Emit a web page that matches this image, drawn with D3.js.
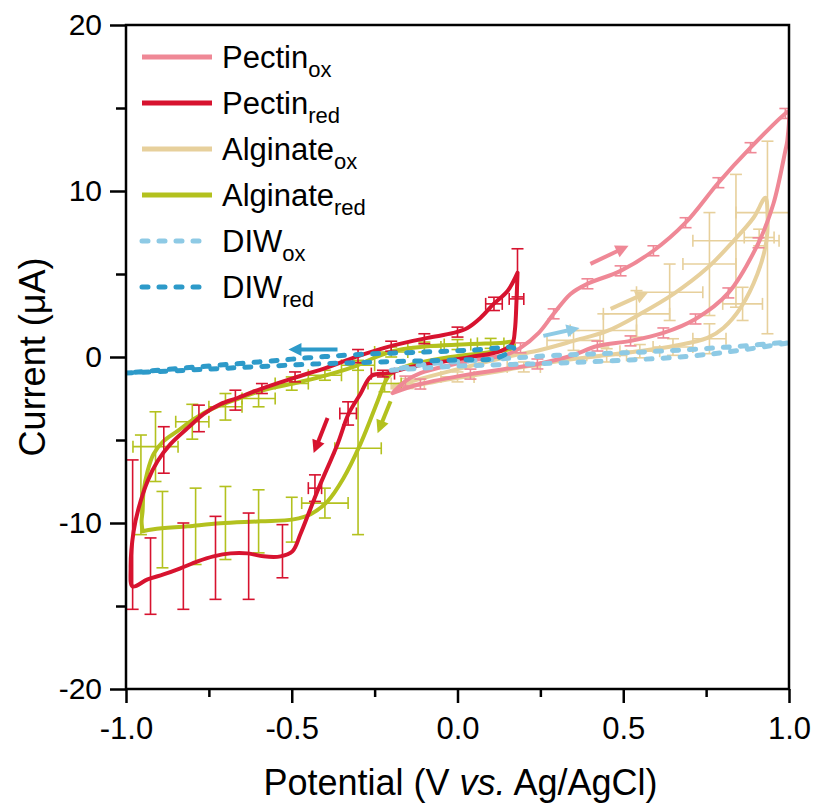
<!DOCTYPE html>
<html>
<head>
<meta charset="utf-8">
<script src="https://cdn.jsdelivr.net/npm/d3@7"></script>
<style>
  html, body { margin: 0; padding: 0; background: #ffffff; }
  svg { display: block; font-family: "Liberation Sans", Arial, sans-serif; }
</style>
</head>
<body>
<svg id="chart" width="814" height="807"></svg>
<script>
// ---- axis ticks ----
const xTickValues = [-1.0, -0.5, 0.0, 0.5, 1.0];
const xTickLabels = ["-1.0", "-0.5", "0.0", "0.5", "1.0"];
const xMinorTicks = [-0.75, -0.25, 0.25, 0.75];
const yTickValues = [-20, -10, 0, 10, 20];
const yTickLabels = ["-20", "-10", "0", "10", "20"];
const yMinorTicks = [-15, -5, 5, 15];

// ---- legend entries ----
const seriesNames = ["Pectin", "Pectin", "Alginate", "Alginate", "DIW", "DIW"];
const seriesSubs = ["ox", "red", "ox", "red", "ox", "red"];

// ---- CV loops: [potential (V), current (µA)] ----
const pectinOx = [
  [-0.196, -2.17], [-0.157, -1.45], [-0.112, -0.97], [-0.021, -0.48], [0.069, -0.12],
  [0.145, 0.12], [0.190, 0.55], [0.245, 1.45], [0.290, 2.60], [0.341, 3.80],
  [0.392, 4.41], [0.492, 5.19], [0.591, 6.40], [0.688, 8.09], [0.787, 10.50],
  [0.884, 12.61], [0.989, 14.67], [0.998, 14.79], [0.995, 13.04], [0.989, 12.43],
  [0.953, 9.23], [0.908, 6.88], [0.817, 3.86], [0.718, 2.29], [0.621, 1.45],
  [0.522, 0.97], [0.422, 0.66], [0.341, 0.06], [0.241, -0.42], [0.039, -1.03],
  [-0.112, -1.63], [-0.196, -2.17]
];
const pectinRed = [
  [0.181, 5.07], [0.178, 3.4], [0.173, 1.6], [0.165, 0.8], [0.13, 0.36],
  [0.04, 0.0], [-0.05, -0.3], [-0.14, -0.6], [-0.21, -0.97], [-0.26, -1.15],
  [-0.293, -2.23], [-0.329, -3.44], [-0.362, -5.25], [-0.419, -7.91], [-0.443, -9.11],
  [-0.474, -10.68], [-0.498, -11.71], [-0.534, -12.01], [-0.585, -12.01], [-0.633, -11.83],
  [-0.685, -11.83], [-0.736, -12.01], [-0.784, -12.31], [-0.836, -12.73], [-0.887, -13.10],
  [-0.935, -13.40], [-0.980, -13.82], [-0.986, -12.7], [-0.977, -10.5], [-0.962, -9.11],
  [-0.935, -7.48], [-0.905, -6.28], [-0.866, -5.25], [-0.814, -4.28], [-0.766, -3.44],
  [-0.715, -2.84], [-0.664, -2.47], [-0.594, -1.93], [-0.495, -1.27], [-0.392, -0.62],
  [-0.30, 0.05], [-0.193, 0.70], [-0.09, 1.15], [-0.012, 1.45], [0.030, 1.75],
  [0.069, 2.35], [0.109, 3.20], [0.151, 3.98], [0.181, 5.07]
];
const alginateOx = [
  [-0.193, -1.75], [-0.081, -1.15], [0.039, -0.54], [0.160, 0.06], [0.250, 0.42],
  [0.350, 0.97], [0.452, 1.57], [0.552, 2.60], [0.652, 3.80], [0.754, 5.37],
  [0.833, 7.00], [0.893, 8.39], [0.929, 9.60], [0.935, 8.69], [0.932, 7.00],
  [0.905, 5.01], [0.854, 2.96], [0.802, 1.75], [0.754, 1.15], [0.652, 0.66],
  [0.552, 0.36], [0.452, 0.12], [0.350, -0.12], [0.250, -0.42], [0.130, -0.84],
  [-0.021, -1.33], [-0.142, -1.75], [-0.193, -1.87]
];
const alginateRed = [
  [-0.950, -10.5], [-0.953, -9.9], [-0.950, -9.3], [-0.947, -8.09], [-0.935, -6.88],
  [-0.917, -5.85], [-0.887, -5.07], [-0.845, -4.47], [-0.796, -3.74], [-0.736, -3.08],
  [-0.664, -2.53], [-0.585, -1.99], [-0.504, -1.63], [-0.413, -1.2], [-0.314, -0.6],
  [-0.253, -0.06], [-0.193, 0.36], [-0.081, 0.66], [0.039, 0.78], [0.130, 0.84],
  [0.169, 0.90], [0.166, 0.54], [0.100, 0.30], [-0.021, 0.0], [-0.142, -0.48],
  [-0.202, -1.03], [-0.217, -1.45], [-0.241, -2.66], [-0.293, -5.25], [-0.344, -7.30],
  [-0.392, -8.69], [-0.443, -9.47], [-0.495, -9.78], [-0.594, -9.90], [-0.715, -10.02],
  [-0.814, -10.20], [-0.917, -10.38], [-0.950, -10.5]
];
const diwOx = [
  [-0.2, -0.8], [0.0, -0.55], [0.25, -0.4], [0.5, -0.2], [0.7, 0.05], [0.85, 0.4],
  [1.0, 0.88], [0.85, 0.65], [0.7, 0.45], [0.5, 0.25], [0.3, 0.1], [0.1, -0.15],
  [-0.1, -0.45], [-0.2, -0.8]
];
const diwRed = [
  [-1.0, -0.97], [-0.8, -0.78], [-0.6, -0.58], [-0.4, -0.4], [-0.2, -0.28], [0.0, -0.18],
  [0.12, -0.05], [0.17, 0.55], [0.05, 0.42], [-0.1, 0.3], [-0.3, 0.15], [-0.45, -0.05],
  [-0.6, -0.3], [-0.8, -0.62], [-1.0, -0.97]
];

// ---- error bars: [potential, current, potential error, current error] ----
const pectinOxErr = [
  [-0.157, -1.45, 0, 0.3], [0.190, 0.55, 0, 0.3], [0.290, 2.60, 0, 0.3],
  [0.392, 4.41, 0, 0.3], [0.492, 5.19, 0, 0.3], [0.591, 6.40, 0, 0.3],
  [0.688, 8.09, 0, 0.3], [0.787, 10.50, 0, 0.3], [0.884, 12.61, 0, 0.3],
  [0.989, 14.67, 0, 0.3], [0.908, 6.88, 0, 0.3], [0.817, 3.86, 0, 0.3],
  [0.718, 2.29, 0, 0.3], [0.621, 1.45, 0, 0.3], [0.522, 0.97, 0, 0.3],
  [0.422, 0.66, 0, 0.3], [0.241, -0.42, 0, 0.3], [0.039, -1.03, 0, 0.3],
  [-0.112, -1.63, 0, 0.3]
];
const pectinRedErr = [
  [-0.980, -10.7, 0, 4.5], [-0.926, -13.2, 0, 2.3], [-0.827, -12.6, 0, 2.6],
  [-0.730, -12.1, 0, 2.5], [-0.630, -12.0, 0, 2.6], [-0.528, -11.7, 0, 1.6],
  [-0.430, -7.9, 0.02, 0.8], [-0.330, -3.4, 0.025, 0.7], [-0.225, -1.0, 0.035, 0.2],
  [-0.886, -5.6, 0, 1.4], [-0.780, -3.7, 0, 0.8], [-0.670, -2.6, 0, 0.6],
  [-0.590, -1.9, 0, 0.3], [-0.490, -1.2, 0, 0.3], [-0.300, 0.05, 0, 0.4],
  [-0.200, 0.65, 0, 0.3], [-0.100, 1.1, 0, 0.3], [0.000, 1.5, 0, 0.3],
  [0.110, 3.2, 0.025, 0.4], [0.178, 3.5, 0.022, 0], [0.181, 5.07, 0, 1.45]
];
const alginateOxErr = [
  [0.35, 1.0, 0.08, 0.6], [0.44, 1.6, 0.10, 1.0], [0.54, 2.6, 0.10, 1.4],
  [0.64, 3.9, 0.10, 1.7], [0.76, 5.6, 0.08, 3.1], [0.84, 7.0, 0.13, 4.0],
  [0.935, 7.2, 0, 5.8], [0.92, 8.7, 0.08, 0], [0.91, 7.2, 0.045, 0.5],
  [0.86, 3.2, 0.06, 1.0], [0.76, 1.1, 0.05, 0.9], [0.65, 0.6, 0.06, 0.5],
  [0.55, 0.35, 0.06, 0.4], [0.45, 0.1, 0.06, 0.4], [0.20, -0.6, 0.05, 0.3],
  [0.00, -1.2, 0.05, 0.3], [-0.15, -1.6, 0.05, 0.3]
];
const alginateRedErr = [
  [-0.955, -7.7, 0, 3.0], [-0.911, -5.4, 0.068, 2.1], [-0.80, -3.9, 0.05, 1.05],
  [-0.70, -3.0, 0.05, 0.8], [-0.60, -2.5, 0.05, 0.5], [-0.50, -1.6, 0.05, 0.4],
  [-0.40, -1.1, 0.05, 0.3], [-0.30, -0.5, 0.05, 0.3], [-0.20, 0.3, 0.05, 0.3],
  [-0.10, 0.6, 0.05, 0.3], [0.00, 0.75, 0.04, 0.3], [0.10, 0.82, 0.04, 0.3],
  [-0.89, -10.4, 0, 2.3], [-0.79, -10.2, 0, 2.3], [-0.70, -10.0, 0, 2.2],
  [-0.60, -9.9, 0, 1.9], [-0.50, -9.8, 0, 1.35], [-0.40, -8.8, 0.07, 0.9],
  [-0.30, -5.5, 0.07, 5.2], [-0.22, -1.6, 0.05, 0.5]
];

// ---- sweep direction arrows: [from V, from I, to V, to I] ----
const sweepArrows = [
  { key: "pectinOx", seg: [0.401, 5.61, 0.516, 6.70] },
  { key: "alginateOx", seg: [0.462, 2.90, 0.576, 3.92] },
  { key: "diwOx", seg: [0.259, 1.27, 0.368, 1.75] },
  { key: "diwRed", seg: [-0.362, 0.45, -0.510, 0.45] },
  { key: "pectinRed", seg: [-0.392, -3.68, -0.434, -5.79] },
  { key: "alginateRed", seg: [-0.202, -2.66, -0.241, -4.59] }
];

// ---- styling ----
const colors = {
  pectinOx: "#EF8896",
  pectinRed: "#D7132F",
  alginateOx: "#E7D09C",
  alginateRed: "#B3C11E",
  diwOx: "#8ECAE5",
  diwRed: "#2D9AC9"
};

const plot = { left: 126, right: 789, top: 25, bottom: 689 };

const svg = d3.select("#chart");
const x = d3.scaleLinear().domain([-1, 1]).range([plot.left, plot.right]);
const y = d3.scaleLinear().domain([-20, 20]).range([plot.bottom, plot.top]);

const line = d3.line()
  .x(d => x(d[0]))
  .y(d => y(d[1]))
  .curve(d3.curveCatmullRom.alpha(0.5));

svg.append("clipPath").attr("id", "plotClip")
  .append("rect")
  .attr("x", plot.left).attr("y", plot.top)
  .attr("width", plot.right - plot.left).attr("height", plot.bottom - plot.top);

const layer = svg.append("g").attr("clip-path", "url(#plotClip)");

function drawErrors(data, color) {
  const g = layer.append("g").attr("stroke", color).attr("stroke-width", 1.6).attr("fill", "none");
  const cap = 6;
  data.forEach(([v, i, ev, ei]) => {
    const cx = x(v), cy = y(i);
    if (ei > 0) {
      const y1 = y(i + ei), y2 = y(i - ei);
      g.append("line").attr("x1", cx).attr("x2", cx).attr("y1", y1).attr("y2", y2);
      g.append("line").attr("x1", cx - cap).attr("x2", cx + cap).attr("y1", y1).attr("y2", y1);
      g.append("line").attr("x1", cx - cap).attr("x2", cx + cap).attr("y1", y2).attr("y2", y2);
    }
    if (ev > 0) {
      const x1 = x(v - ev), x2 = x(v + ev);
      g.append("line").attr("x1", x1).attr("x2", x2).attr("y1", cy).attr("y2", cy);
      g.append("line").attr("x1", x1).attr("x2", x1).attr("y1", cy - cap).attr("y2", cy + cap);
      g.append("line").attr("x1", x2).attr("x2", x2).attr("y1", cy - cap).attr("y2", cy + cap);
    }
  });
}

function drawCurve(data, color, dashed) {
  const p = layer.append("path")
    .datum(data)
    .attr("d", line)
    .attr("fill", "none")
    .attr("stroke", color)
    .attr("stroke-linejoin", "round");
  if (dashed) {
    p.attr("stroke-width", 5).attr("stroke-dasharray", "6,11").attr("stroke-linecap", "round");
  } else {
    p.attr("stroke-width", 4).attr("stroke-linecap", "round");
  }
}

// draw order: alginate, pectin, then water baselines on top
drawErrors(alginateOxErr, colors.alginateOx);
drawCurve(alginateOx, colors.alginateOx, false);
drawErrors(alginateRedErr, colors.alginateRed);
drawCurve(alginateRed, colors.alginateRed, false);
drawErrors(pectinOxErr, colors.pectinOx);
drawCurve(pectinOx, colors.pectinOx, false);
drawErrors(pectinRedErr, colors.pectinRed);
drawCurve(pectinRed, colors.pectinRed, false);
drawCurve(diwOx, colors.diwOx, true);
drawCurve(diwRed, colors.diwRed, true);

// sweep direction arrows
sweepArrows.forEach(a => {
  const [v1, i1, v2, i2] = a.seg;
  const x1 = x(v1), y1 = y(i1), x2 = x(v2), y2 = y(i2);
  const ang = Math.atan2(y2 - y1, x2 - x1);
  const headLen = 13, headHalf = 6.5;
  const bx = x2 - headLen * Math.cos(ang), by = y2 - headLen * Math.sin(ang);
  const g = layer.append("g");
  g.append("line")
    .attr("x1", x1).attr("y1", y1).attr("x2", bx + 2 * Math.cos(ang)).attr("y2", by + 2 * Math.sin(ang))
    .attr("stroke", colors[a.key]).attr("stroke-width", 4);
  const px = -Math.sin(ang), py = Math.cos(ang);
  g.append("polygon")
    .attr("points", [
      [x2, y2],
      [bx + headHalf * px, by + headHalf * py],
      [bx - headHalf * px, by - headHalf * py]
    ].map(p => p.join(",")).join(" "))
    .attr("fill", colors[a.key]);
});

// ---- frame and axes ----
svg.append("rect")
  .attr("x", plot.left).attr("y", plot.top)
  .attr("width", plot.right - plot.left).attr("height", plot.bottom - plot.top)
  .attr("fill", "none").attr("stroke", "#000").attr("stroke-width", 2.5);

const xAxis = d3.axisBottom(x).tickValues(xTickValues).tickSize(14).tickPadding(14)
  .tickFormat((d, i) => xTickLabels[i]);
const gx = svg.append("g").attr("transform", `translate(0,${plot.bottom})`).call(xAxis);
gx.select(".domain").remove();
gx.selectAll(".tick line").attr("stroke", "#000").attr("stroke-width", 2.5);
gx.selectAll(".tick text")
  .attr("font-family", "Liberation Sans, Arial, sans-serif")
  .attr("font-size", 31).attr("fill", "#000");

const gxm = svg.append("g").attr("transform", `translate(0,${plot.bottom})`)
  .call(d3.axisBottom(x).tickValues(xMinorTicks).tickSize(8).tickFormat(""));
gxm.select(".domain").remove();
gxm.selectAll(".tick line").attr("stroke", "#000").attr("stroke-width", 2.5);

const yAxis = d3.axisLeft(y).tickValues(yTickValues).tickSize(16).tickPadding(8)
  .tickFormat((d, i) => yTickLabels[i]);
const gy = svg.append("g").attr("transform", `translate(${plot.left},0)`).call(yAxis);
gy.select(".domain").remove();
gy.selectAll(".tick line").attr("stroke", "#000").attr("stroke-width", 2.5);
gy.selectAll(".tick text")
  .attr("font-family", "Liberation Sans, Arial, sans-serif")
  .attr("font-size", 30).attr("fill", "#000");

const gym = svg.append("g").attr("transform", `translate(${plot.left},0)`)
  .call(d3.axisLeft(y).tickValues(yMinorTicks).tickSize(10).tickFormat(""));
gym.select(".domain").remove();
gym.selectAll(".tick line").attr("stroke", "#000").attr("stroke-width", 2.5);

// axis titles
const xt = svg.append("text")
  .attr("x", (plot.left + plot.right) / 2 + 3).attr("y", 795)
  .attr("text-anchor", "middle").attr("font-size", 36).attr("fill", "#000");
xt.append("tspan").text("Potential (V ");
xt.append("tspan").attr("font-style", "italic").text("vs.");
xt.append("tspan").text(" Ag/AgCl)");

svg.append("text")
  .attr("transform", `translate(45,${(plot.top + plot.bottom) / 2}) rotate(-90)`)
  .attr("text-anchor", "middle").attr("font-size", 36).attr("fill", "#000")
  .text("Current (\u03BCA)");

// ---- legend ----
const legendKeys = ["pectinOx", "pectinRed", "alginateOx", "alginateRed", "diwOx", "diwRed"];
const legendTop = 57, legendStep = 46;
const lg = svg.append("g");
legendKeys.forEach((k, i) => {
  const ly = legendTop + i * legendStep;
  const dashed = k.startsWith("diw");
  const ln = lg.append("line")
    .attr("x1", 142).attr("x2", dashed ? 208 : 212).attr("y1", ly).attr("y2", ly)
    .attr("stroke", colors[k]);
  if (dashed) {
    ln.attr("stroke-width", 5).attr("stroke-dasharray", "6,11").attr("stroke-linecap", "round");
  } else {
    ln.attr("stroke-width", 5);
  }
  const t = lg.append("text").attr("x", 222).attr("y", ly + 11)
    .attr("font-size", 31).attr("fill", "#000");
  t.append("tspan").text(seriesNames[i]);
  t.append("tspan").attr("font-size", 22).attr("dy", 9).text(seriesSubs[i]);
});
</script>
</body>
</html>
